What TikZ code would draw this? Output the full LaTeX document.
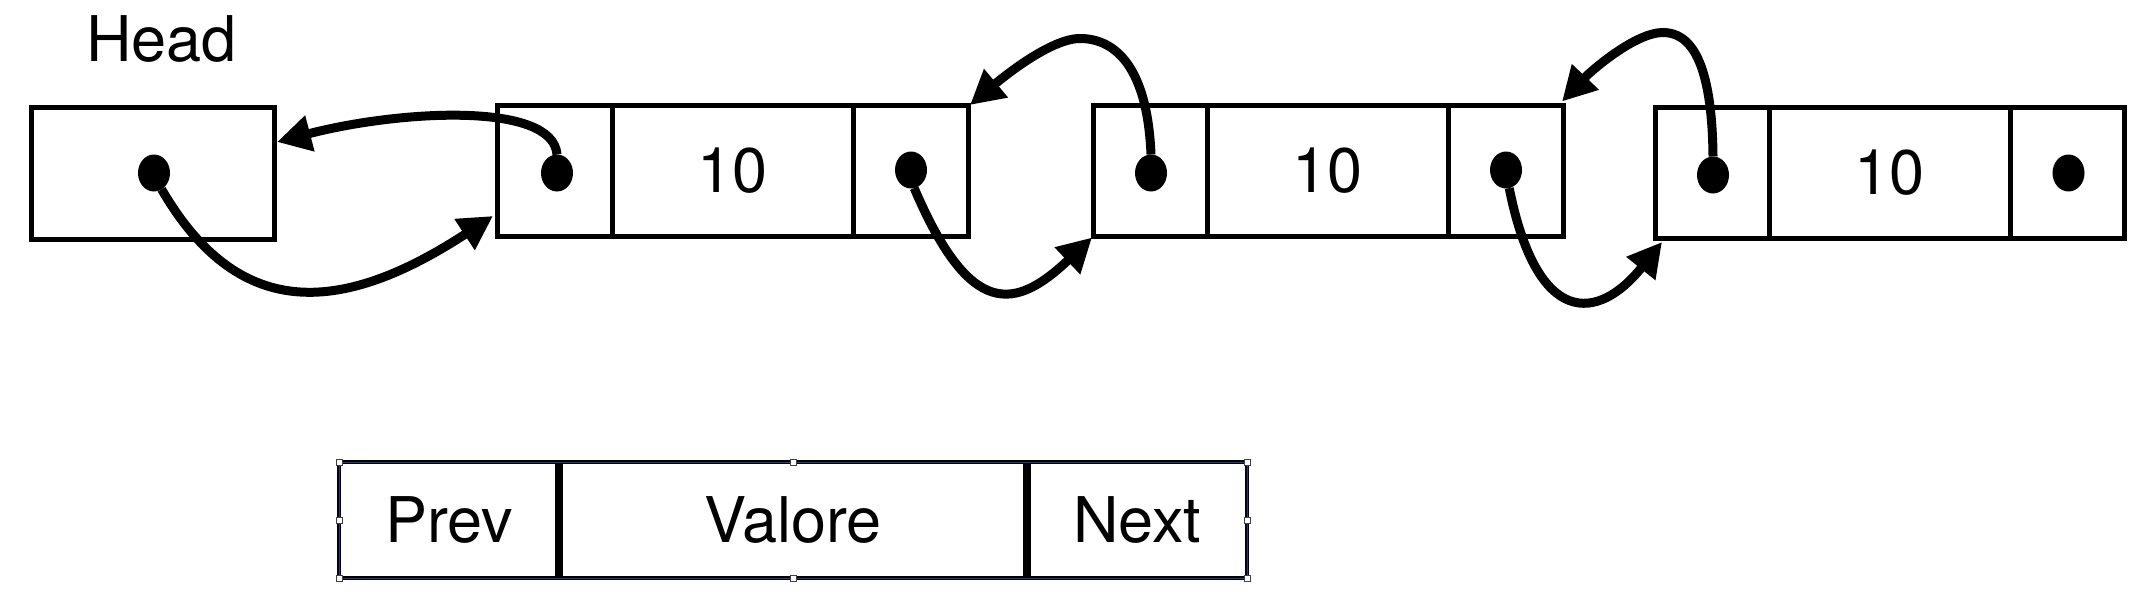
\documentclass[tikz,border=0pt]{standalone}
\usepackage{fontspec}
\setmainfont{TeX Gyre Heros}
\usetikzlibrary{arrows.meta,calc,shapes.geometric}
\definecolor{selblue}{RGB}{30,60,140}
\begin{document}
\begin{tikzpicture}[x=1pt,y=-1pt,
  txt/.style={inner sep=0pt,outer sep=0pt,font=\fontsize{63}{76}\selectfont},
  cell/.style={txt,draw,line width=5pt,minimum height=131pt},
  ptrw/.style={minimum width=115pt},
  valw/.style={minimum width=241pt},
  dot/.style={ellipse,fill=black,draw=none,inner sep=0pt,outer sep=0pt,minimum width=32pt,minimum height=37pt},
  arr/.style={line width=9pt,-{Triangle[length=34pt,width=35pt]}},
  lcell/.style={txt,minimum height=116pt},
  divider/.style={line width=8pt},
  legframe/.style={draw=black,line width=1.6pt,double=selblue,double distance=1pt,inner sep=0pt,outer sep=0pt,minimum width=908pt,minimum height=116pt},
  handle/.style={draw=black!75,fill=white,line width=0.8pt,inner sep=0pt,outer sep=0pt,minimum size=6pt}
]
\useasboundingbox (0,0) rectangle (2140,602);
\fill[white] (0,0) rectangle (2140,602);

% Head
\node[txt,anchor=base] (headlbl) at (161.5,61) {Head};
\node[cell,minimum width=243pt,minimum height=132pt] (head) at (152.5,173) {};

% node 1
\node[cell,ptrw,anchor=west] (n1p) at (497,170.5) {};
\node[cell,valw,anchor=west] (n1v) at (n1p.east) {10};
\node[cell,ptrw,anchor=west] (n1n) at (n1v.east) {};
% node 2
\node[cell,ptrw,minimum width=114pt,anchor=west] (n2p) at (1093,170.5) {};
\node[cell,valw,anchor=west] (n2v) at (n2p.east) {10};
\node[cell,ptrw,anchor=west] (n2n) at (n2v.east) {};
% node 3
\node[cell,ptrw,minimum width=114pt,anchor=west] (n3p) at (1655,172.5) {};
\node[cell,valw,anchor=west] (n3v) at (n3p.east) {10};
\node[cell,ptrw,minimum width=114pt,anchor=west] (n3n) at (n3v.east) {};

% dots
\node[dot] (hd) at (154,173) {};
\node[dot] (d1p) at (557,173) {};
\node[dot] (d1n) at (911,170) {};
\node[dot] (d2p) at (1151,173) {};
\node[dot] (d2n) at (1506,170) {};
\node[dot] (d3p) at (1713,175) {};
\node[dot] (d3n) at (2068.5,173) {};

% arrows
\coordinate (t1) at ($(n1p.south west)+(-4,-20)$);
\coordinate (t2) at ($(head.east)+(3,-31)$);
\coordinate (t3) at ($(n2p.south west)+(-1,1.5)$);
\coordinate (t4) at ($(n1n.north east)+(2,0)$);
\coordinate (t5) at ($(n3p.south west)+(7,4)$);
\coordinate (t6) at ($(n2n.north east)+(-1,-3.5)$);

\draw[arr] (hd.-65) .. controls +(75,129) and +(-156,102) .. (t1);
\draw[arr] (d1p.north) .. controls +(-4,-53) and +(123,-32) .. (t2);
\draw[arr] (d1n.-80) .. controls +(56,131) and +(-77,73) .. (t3);
\draw[arr] (d2p.north) .. controls +(-4,-95) and +(30,0) .. ++(-71,-116)
                       .. controls +(-30,0) and +(31,-26) .. (t4);
\draw[arr] (d2n.-80) .. controls +(28,140) and +(-64,80) .. (t5);
\draw[arr] (d3p.north) .. controls +(-1,-96.5) and +(27,0) .. ++(-50,-124)
                       .. controls +(-28,0) and +(29,-30.5) .. (t6);

% legend
\node[lcell,minimum width=220pt,anchor=west] (lp) at (339,520) {Prev};
\node[lcell,minimum width=468pt,anchor=west] (lv) at (lp.east) {Valore};
\node[lcell,minimum width=220pt,anchor=west] (ln) at (lv.east) {Next};
\draw[divider] (lp.north east) -- (lp.south east);
\draw[divider] (lv.north east) -- (lv.south east);
\node[legframe,anchor=west] (legend) at (339,520) {};
\foreach \a in {north west,north,north east,east,south east,south,south west,west}
  \node[handle] (h-\a) at (legend.\a) {};
\end{tikzpicture}
\end{document}
